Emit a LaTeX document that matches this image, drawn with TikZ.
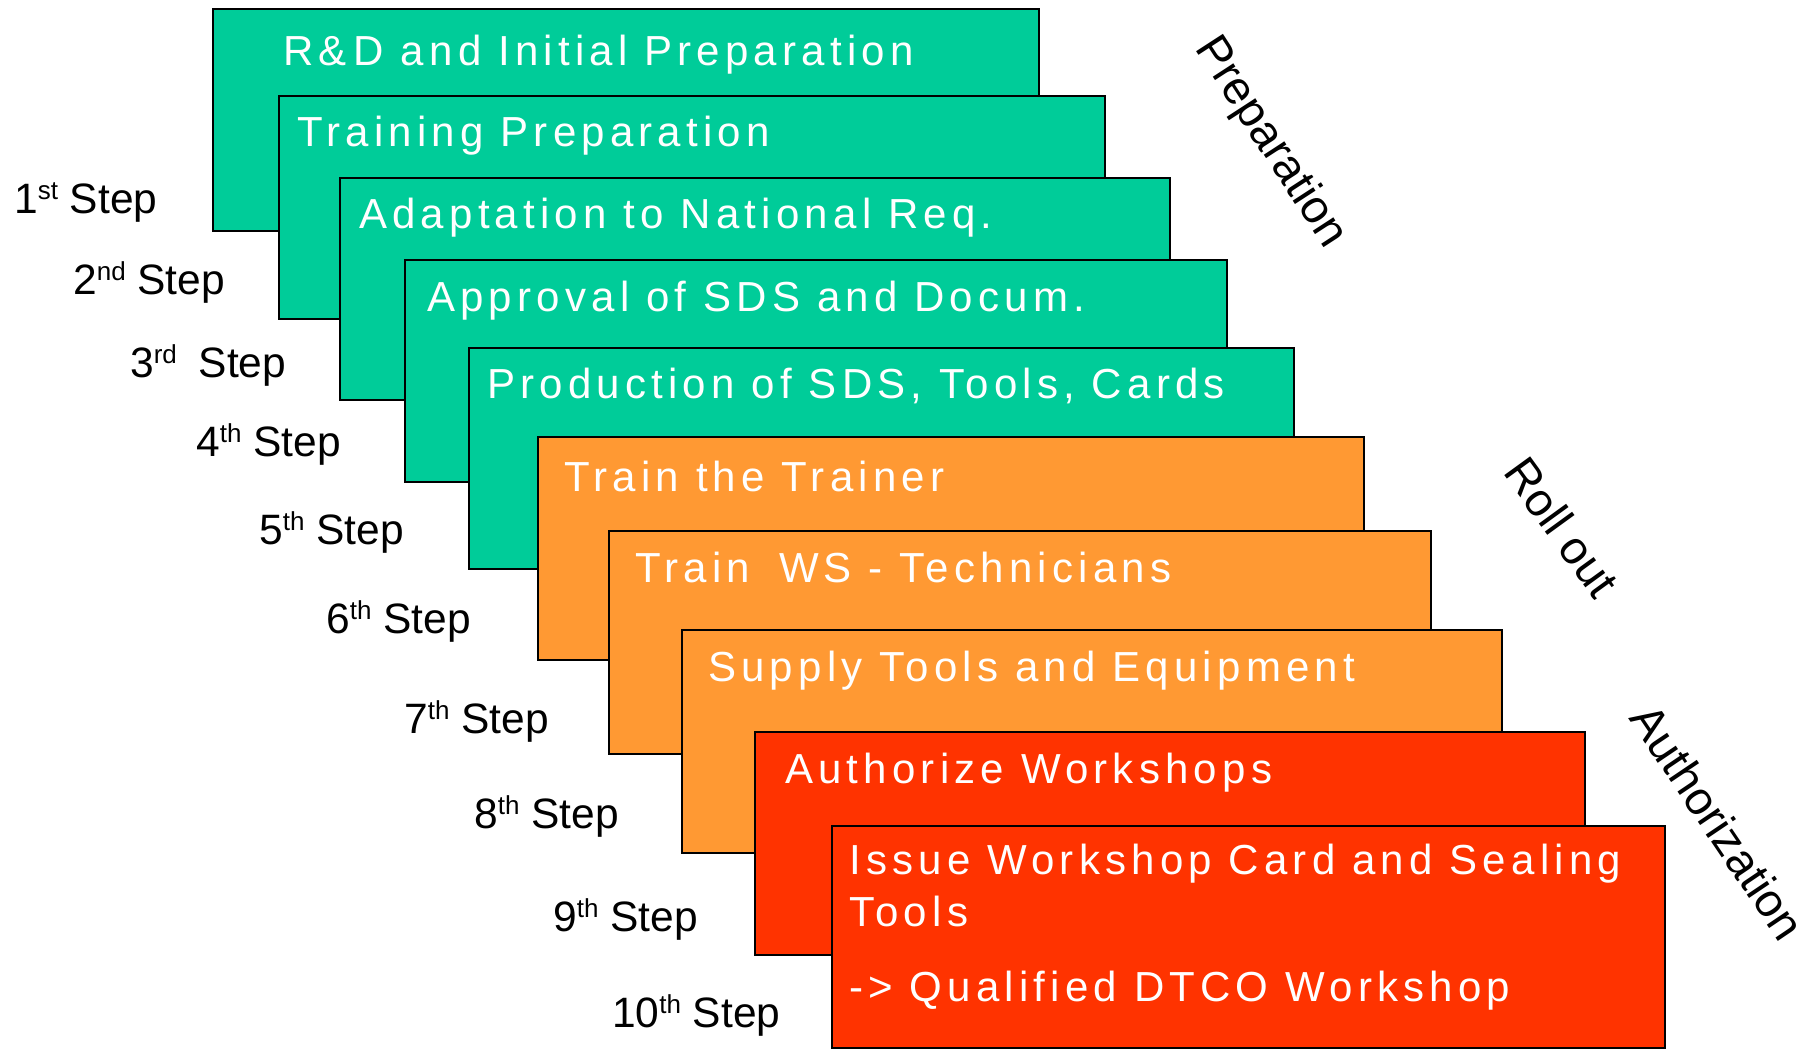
\documentclass[tikz,border=0pt]{standalone}
\usepackage{fontspec}
\setmainfont{Liberation Sans}
\newfontfamily\boxfont[LetterSpace=12.4]{Liberation Sans}
\definecolor{pgreen}{HTML}{00CC99}
\definecolor{porange}{HTML}{FF9933}
\definecolor{pred}{HTML}{FF3300}
\newcommand\stpl[3][0pt]{#2\raisebox{14pt}{\fontsize{26}{26}\selectfont #3}\hspace{#1}\ Step}
\begin{document}
\begin{tikzpicture}[x=1pt,y=-1pt,
  stepbox/.style={draw=black,line width=2pt,rectangle,inner sep=0pt,anchor=north west},
  boxtxt/.style={text=white,anchor=base west,inner sep=0pt,font=\boxfont\fontsize{42}{50}\selectfont},
  steplbl/.style={text=black,anchor=base west,inner sep=0pt,font=\fontsize{42.5}{50}\selectfont},
  phase/.style={text=black,inner sep=0pt,font=\fontsize{46.5}{54}\selectfont}]
\path[use as bounding box,fill=white] (0,0) rectangle (1807,1049);
% boxes
\node[stepbox,fill=pgreen,minimum width=826pt,minimum height=222pt] (b1) at (212,8) {};
\node[boxtxt] (t1) at ([xshift=71pt,yshift=-58pt]b1.north west) {R\&\hspace{7pt}D and Initial Preparation};
\node[stepbox,fill=pgreen,minimum width=826pt,minimum height=223pt] (b2) at (278,95) {};
\node[boxtxt] (t2) at ([xshift=19pt,yshift=-51pt]b2.north west) {Training Preparation};
\node[stepbox,fill=pgreen,minimum width=830pt,minimum height=222pt] (b3) at (339,177) {};
\node[boxtxt] (t3) at ([xshift=20pt,yshift=-51pt]b3.north west) {Adaptation to National Req.};
\node[stepbox,fill=pgreen,minimum width=822pt,minimum height=222pt] (b4) at (404,259) {};
\node[boxtxt] (t4) at ([xshift=23pt,yshift=-52pt]b4.north west) {Approval of SDS and Docum.};
\node[stepbox,fill=pgreen,minimum width=825pt,minimum height=221pt] (b5) at (468,347) {};
\node[boxtxt] (t5) at ([xshift=19pt,yshift=-51pt]b5.north west) {Production of SDS, Tools, Cards};
\node[stepbox,fill=porange,minimum width=826pt,minimum height=223pt] (b6) at (537,436) {};
\node[boxtxt] (t6) at ([xshift=27pt,yshift=-55pt]b6.north west) {Train the Trainer};
\node[stepbox,fill=porange,minimum width=822pt,minimum height=223pt] (b7) at (608,530) {};
\node[boxtxt] (t7) at ([xshift=27pt,yshift=-52pt]b7.north west) {Train\hspace{12pt} WS - Technicians};
\node[stepbox,fill=porange,minimum width=820pt,minimum height=223pt] (b8) at (681,629) {};
\node[boxtxt] (t8) at ([xshift=27pt,yshift=-52pt]b8.north west) {Supply Tools and Equipment};
\node[stepbox,fill=pred,minimum width=830pt,minimum height=223pt] (b9) at (754,731) {};
\node[boxtxt] (t9) at ([xshift=31pt,yshift=-52pt]b9.north west) {Authorize Workshops};
\node[stepbox,fill=pred,minimum width=833pt,minimum height=222pt] (b10) at (831,825) {};
\node[boxtxt] (t10) at ([xshift=18pt,yshift=-49pt]b10.north west) {Issue Workshop Card and Sealing};
\node[boxtxt] (t10b) at ([xshift=18pt,yshift=-101pt]b10.north west) {Tools};
\node[boxtxt] (t10c) at ([xshift=18pt,yshift=-176pt]b10.north west) {-> Qualified DTCO Workshop};
% step labels
\node[steplbl] (s1) at (14,213) {\stpl{1}{st}};
\node[steplbl] (s2) at (73,294) {\stpl{2}{nd}};
\node[steplbl] (s3) at (130,377) {\stpl[10pt]{3}{rd}};
\node[steplbl] (s4) at (196,456) {\stpl{4}{th}};
\node[steplbl] (s5) at (259,544) {\stpl{5}{th}};
\node[steplbl] (s6) at (326,633) {\stpl{6}{th}};
\node[steplbl] (s7) at (404,733) {\stpl{7}{th}};
\node[steplbl] (s8) at (474,828) {\stpl{8}{th}};
\node[steplbl] (s9) at (553,931) {\stpl{9}{th}};
\node[steplbl] (s10) at (612,1027) {\stpl{10}{th}};
% phase labels
\node[phase,rotate=-57] (p1) at (1270,143) {Preparation};
\node[phase,rotate=-54] (p2) at (1562,527) {Roll out};
\node[phase,rotate=-56] (p3) at (1718,822) {Authorization};
\end{tikzpicture}
\end{document}
